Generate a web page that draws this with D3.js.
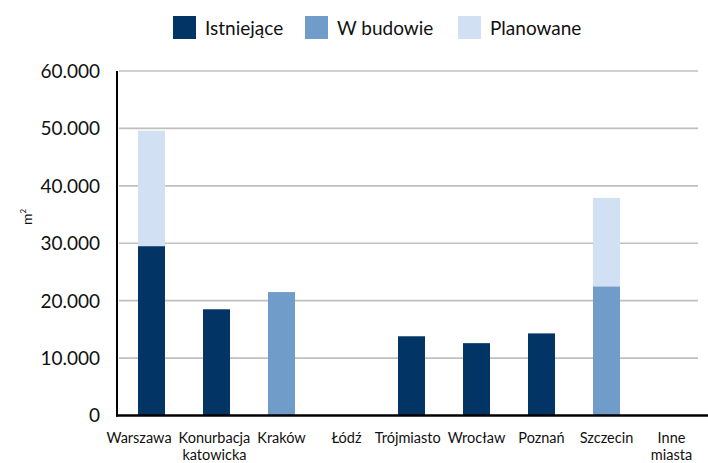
<!DOCTYPE html>
<html><head><meta charset="utf-8">
<script src="https://cdn.jsdelivr.net/npm/d3@7"></script>
<style>body{margin:0;background:#fff}svg{display:block}</style>
</head><body>
<svg id="c" width="708" height="463"></svg>
<script>
const categories = ["Warszawa","Konurbacja\nkatowicka","Kraków","Łódź","Trójmiasto","Wrocław","Poznań","Szczecin","Inne\nmiasta"];
const seriesNames = ["Istniejące","W budowie","Planowane"];
const istniejace = [29500,18500,0,0,13800,12600,14300,0,0];
const wBudowie   = [0,0,21500,0,0,0,0,22500,0];
const planowane  = [20100,0,0,0,0,0,0,15400,0];
const yTicks = [0,10000,20000,30000,40000,50000,60000];
const colors = ["#023565","#709CC9","#D1E0F3"];
const font = "Lato, 'Open Sans', sans-serif";

(function(){
const svg = d3.select("#c");
const pl = 119, pr = 704, pt = 71, pb = 415.5;
const x = d3.scaleBand().domain(categories).range([pl, pr]);
const y = d3.scaleLinear().domain([0,60000]).range([pb, pt]);
const fmt = v => v === 0 ? "0" : d3.format(",")(v).replace(/,/g, ".");

// gridlines
svg.append("g").selectAll("line").data(yTicks.filter(t => t > 0)).join("line")
  .attr("x1", pl).attr("x2", pr - 6)
  .attr("y1", d => y(d)).attr("y2", d => y(d))
  .attr("stroke", "#c0c0c0").attr("stroke-width", 1.6);

// stacked bars
const rows = categories.map((c,i) => ({cat:c, v:[istniejace[i], wBudowie[i], planowane[i]]}));
const bw = x.bandwidth() * 0.415;
rows.forEach(r => {
  let acc = 0;
  r.v.forEach((v, k) => {
    if (v > 0) {
      svg.append("rect")
        .attr("x", x(r.cat) + (x.bandwidth() - bw) / 2)
        .attr("width", bw)
        .attr("y", y(acc + v))
        .attr("height", y(acc) - y(acc + v))
        .attr("fill", colors[k]);
    }
    acc += v;
  });
});

// axes lines
svg.append("line").attr("x1", pl - 2).attr("x2", pl - 2).attr("y1", pt).attr("y2", pb + 1)
  .attr("stroke", "#000").attr("stroke-width", 2);
svg.append("line").attr("x1", pl - 3).attr("x2", 708).attr("y1", pb).attr("y2", pb)
  .attr("stroke", "#000").attr("stroke-width", 2.5);

// y tick labels
svg.append("g").selectAll("text").data(yTicks).join("text")
  .attr("x", 100).attr("y", d => y(d)).attr("dy", "0.36em")
  .attr("text-anchor", "end").attr("font-family", font).attr("font-size", 19)
  .attr("fill", "#111").text(fmt);

// x labels (pushed left to avoid overlap, like the original)
const xl = svg.append("g").selectAll("text").data(categories).join("text")
  .attr("font-family", font).attr("font-size", 14.5).attr("fill", "#111")
  .attr("text-anchor", "middle")
  .each(function(d){
    const t = d3.select(this);
    d.split("\n").forEach((line, i) => {
      t.append("tspan").attr("y", 443 + i*16.5).text(line);
    });
  });
const info = [];
xl.each(function(d){
  let w = 0;
  d3.select(this).selectAll("tspan").each(function(){ w = Math.max(w, this.getComputedTextLength()); });
  info.push({el:this, c:x(d) + x.bandwidth()/2, w});
});
const gap = 7;
for (let i = info.length - 2; i >= 0; i--) {
  const maxRight = info[i+1].c - info[i+1].w/2 - gap;
  if (info[i].c + info[i].w/2 > maxRight) info[i].c = maxRight - info[i].w/2;
}
info.forEach(o => d3.select(o.el).selectAll("tspan").attr("x", o.c));

// y axis title
const yt = svg.append("text").attr("transform", "translate(32,217) rotate(-90)")
  .attr("text-anchor", "middle").attr("font-family", font).attr("font-size", 14).attr("fill", "#111");
yt.append("tspan").text("m");
yt.append("tspan").attr("font-size", 8).attr("dy", -6).text("2");

// legend
const legX = [173, 305, 458];
const lg = svg.append("g");
seriesNames.forEach((s, i) => {
  lg.append("rect").attr("x", legX[i]).attr("y", 16).attr("width", 23).attr("height", 23).attr("fill", colors[i]);
  lg.append("text").attr("x", legX[i] + 32).attr("y", 28).attr("dy", "0.35em")
    .attr("font-family", font).attr("font-size", 19).attr("fill", "#111").text(s);
});
})();
</script>
</body></html>
